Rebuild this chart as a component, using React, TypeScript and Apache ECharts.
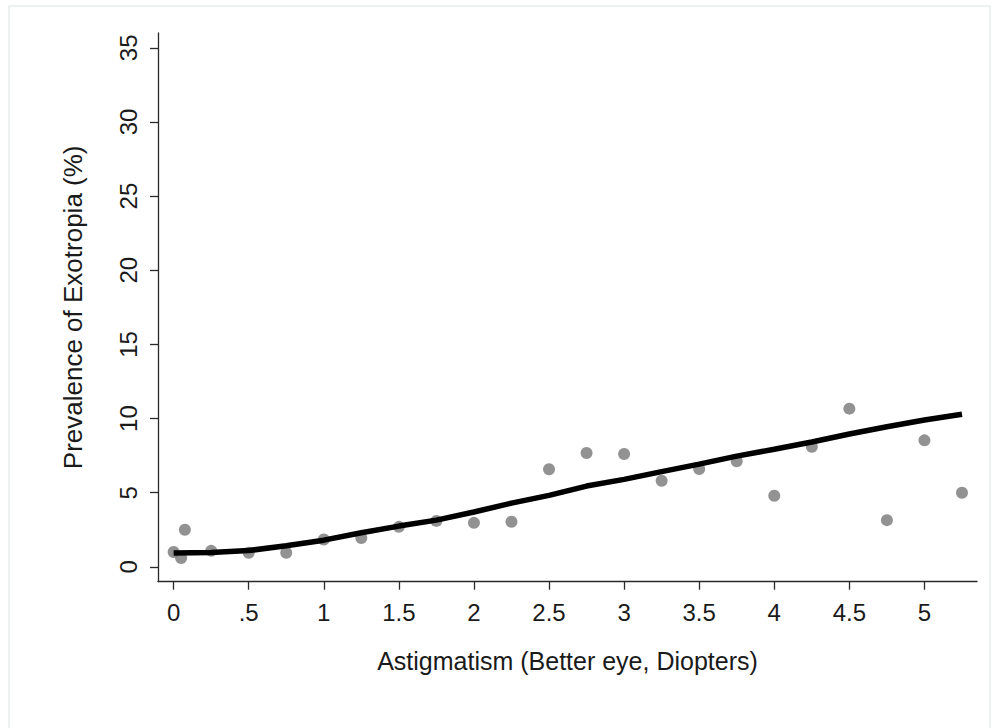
import React, { useEffect, useRef } from "react";
import * as echarts from "echarts";

const xTicks = [0, 0.5, 1, 1.5, 2, 2.5, 3, 3.5, 4, 4.5, 5];
const xTickLabels = ["0", ".5", "1", "1.5", "2", "2.5", "3", "3.5", "4", "4.5", "5"];
const yTicks = [0, 5, 10, 15, 20, 25, 30, 35];

const pointX = [0, 0.05, 0.075, 0.25, 0.5, 0.75, 1.0, 1.25, 1.5, 1.75, 2.0, 2.25, 2.5, 2.75, 3.0, 3.25, 3.5, 3.75, 4.0, 4.25, 4.5, 4.75, 5.0, 5.25];
const pointY = [1.0, 0.6, 2.5, 1.08, 0.95, 0.95, 1.85, 1.94, 2.7, 3.1, 2.97, 3.04, 6.58, 7.68, 7.61, 5.81, 6.6, 7.12, 4.8, 8.1, 10.67, 3.15, 8.53, 5.0];

const fitX = [0, 0.25, 0.5, 0.75, 1.0, 1.25, 1.5, 1.75, 2.0, 2.25, 2.5, 2.75, 3.0, 3.25, 3.5, 3.75, 4.0, 4.25, 4.5, 4.75, 5.0, 5.25];
const fitY = [0.93, 0.97, 1.1, 1.42, 1.8, 2.3, 2.75, 3.15, 3.7, 4.3, 4.82, 5.45, 5.9, 6.42, 6.93, 7.47, 7.93, 8.42, 8.96, 9.45, 9.9, 10.29];

export default function App() {
  const ref = useRef<HTMLDivElement>(null);
  useEffect(() => {
    document.body.style.margin = "0";
    const chart = echarts.init(ref.current!, null, { renderer: "svg" });
    const font = "'Liberation Sans', Arial, sans-serif";
    chart.setOption({
      animation: false,
      backgroundColor: "#ffffff",
      grid: { left: 158, top: 33, width: 819, height: 548.7, containLabel: false },
      graphic: [
        {
          type: "rect",
          shape: { x: 9, y: 6, width: 981, height: 740 },
          style: { fill: "none", stroke: "#e9eded", lineWidth: 1.5 },
          silent: true,
        },
      ],
      xAxis: {
        type: "value",
        min: -0.104,
        max: 5.35,
        name: "Astigmatism (Better eye, Diopters)",
        nameLocation: "middle",
        nameGap: 67,
        nameTextStyle: { fontFamily: font, fontSize: 25, color: "#1a1a1a" },
        splitLine: { show: false },
        axisLine: { show: true, onZero: false, lineStyle: { color: "#2a2a2a", width: 1.3 } },
        axisTick: { show: true, length: 8, customValues: xTicks, lineStyle: { color: "#2a2a2a", width: 1.3 } },
        axisLabel: {
          customValues: xTicks,
          margin: 19,
          fontFamily: font,
          fontSize: 24,
          color: "#1a1a1a",
          formatter: (v: number) => {
            const i = xTicks.findIndex((t) => Math.abs(t - v) < 1e-6);
            return i >= 0 ? xTickLabels[i] : "";
          },
        },
      },
      yAxis: {
        type: "value",
        min: -1,
        max: 36,
        name: "Prevalence of Exotropia (%)",
        nameLocation: "middle",
        nameGap: 72,
        nameTextStyle: { fontFamily: font, fontSize: 26, color: "#1a1a1a" },
        splitLine: { show: false },
        axisLine: { show: true, onZero: false, lineStyle: { color: "#2a2a2a", width: 1.3 } },
        axisTick: { show: true, length: 8, customValues: yTicks, lineStyle: { color: "#2a2a2a", width: 1.3 } },
        axisLabel: {
          customValues: yTicks,
          rotate: 90,
          margin: 18,
          fontFamily: font,
          fontSize: 24,
          color: "#1a1a1a",
        },
      },
      series: [
        {
          type: "scatter",
          data: pointX.map((x, i) => [x, pointY[i]]),
          symbol: "circle",
          symbolSize: 12,
          itemStyle: { color: "#777777" },
          z: 2,
        },
        {
          type: "line",
          data: fitX.map((x, i) => [x, fitY[i]]),
          showSymbol: false,
          symbol: "none",
          lineStyle: { color: "#000000", width: 5.5 },
          z: 3,
        },
      ],
    });
    return () => chart.dispose();
  }, []);
  return <div ref={ref} style={{ width: 996, height: 728 }} />;
}
